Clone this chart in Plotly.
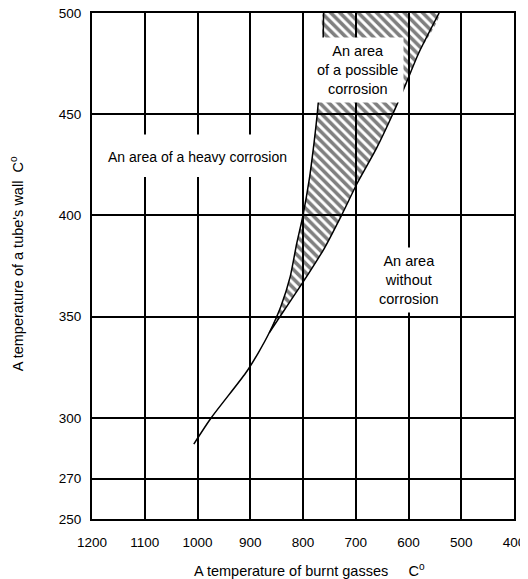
import plotly.graph_objects as go

# Axis ticks
x_ticks = [1200, 1100, 1000, 900, 800, 700, 600, 500, 400]
y_ticks = [250, 270, 300, 350, 400, 450, 500]

# Boundary of the "heavy corrosion" area (gas temperature, wall temperature)
heavy_x = [1007, 974, 909, 885, 864, 842, 824, 812, 800, 788, 779, 773, 767, 762, 761]
heavy_y = [287, 300, 322, 332, 342, 355, 370, 386, 400, 418, 436, 450, 468, 486, 500]

# Boundary of the "without corrosion" area (starts where both curves merge)
free_x = [864, 836, 800, 759, 727, 697, 661, 630, 605, 581, 542]
free_y = [342, 353, 367, 384, 400, 416, 433, 450, 465, 480, 500]

FONT = "Liberation Sans, Arial, sans-serif"

fig = go.Figure()

# hatched zone of possible corrosion (closed polygon between the two boundaries)
zone_x = heavy_x[4:] + free_x[::-1]
zone_y = heavy_y[4:] + free_y[::-1]
fig.add_trace(go.Scatter(
    x=zone_x, y=zone_y, mode="lines", fill="toself",
    line=dict(width=0, shape="spline", smoothing=0.6),
    fillcolor="rgba(0,0,0,0)",
    fillpattern=dict(shape="\\", fgcolor="black", bgcolor="rgba(0,0,0,0)",
                     size=6.5, solidity=0.55),
    hoverinfo="skip", showlegend=False))

fig.add_trace(go.Scatter(x=heavy_x, y=heavy_y, mode="lines",
                         line=dict(color="black", width=1.5, shape="spline", smoothing=0.6),
                         showlegend=False))
fig.add_trace(go.Scatter(x=free_x, y=free_y, mode="lines",
                         line=dict(color="black", width=1.5, shape="spline", smoothing=0.6),
                         showlegend=False))

# white gap behind the heavy-corrosion label
fig.add_shape(type="rect", x0=1125, x1=860, y0=419, y1=440, xref="x", yref="y",
              fillcolor="white", line=dict(width=0), layer="above")

fig.add_annotation(x=1000, y=429, text="An area of a heavy corrosion", showarrow=False,
                   font=dict(family=FONT, size=14, color="black"))
fig.add_annotation(x=697, y=472, text="An area<br>of a possible<br>corrosion", showarrow=False,
                   font=dict(family=FONT, size=14.5, color="black"),
                   bgcolor="white", borderpad=5)
fig.add_annotation(x=600, y=368, text="An area<br>without<br>corrosion", showarrow=False,
                   font=dict(family=FONT, size=14.5, color="black"),
                   bgcolor="white", borderpad=5)

# axis titles
fig.add_annotation(xref="paper", yref="paper", x=0.516, y=-0.101,
                   xanchor="center", yanchor="middle",
                   text="A temperature of burnt gasses\u00a0\u00a0\u00a0\u00a0\u00a0C<sup>o</sup>",
                   showarrow=False, font=dict(family=FONT, size=14.5, color="black"))
fig.add_annotation(xref="paper", yref="paper", x=-0.176, y=0.505, textangle=-90,
                   xanchor="center", yanchor="middle",
                   text="A temperature of a tube's wall\u00a0\u00a0C<sup>o</sup>",
                   showarrow=False, font=dict(family=FONT, size=14.5, color="black"))

fig.update_xaxes(range=[1200, 400], tickvals=x_ticks, showgrid=True, gridcolor="black",
                 gridwidth=1.5, zeroline=False, showline=True, mirror=True,
                 linecolor="black", linewidth=2, ticks="", ticklabelstandoff=10,
                 automargin=False, ticklabeloverflow="allow",
                 tickfont=dict(family=FONT, size=13.5, color="black"))
fig.update_yaxes(range=[250, 500], tickvals=y_ticks, showgrid=True, gridcolor="black",
                 gridwidth=1.5, zeroline=False, showline=True, mirror=True,
                 linecolor="black", linewidth=2, ticks="", ticklabelstandoff=6,
                 automargin=False, ticklabeloverflow="allow",
                 tickfont=dict(family=FONT, size=13.5, color="black"))

fig.update_layout(width=520, height=571, margin=dict(l=84, r=14, t=5, b=60),
                  paper_bgcolor="white", plot_bgcolor="white",
                  font=dict(family=FONT, color="black"), showlegend=False)

fig.write_html("out.html")
